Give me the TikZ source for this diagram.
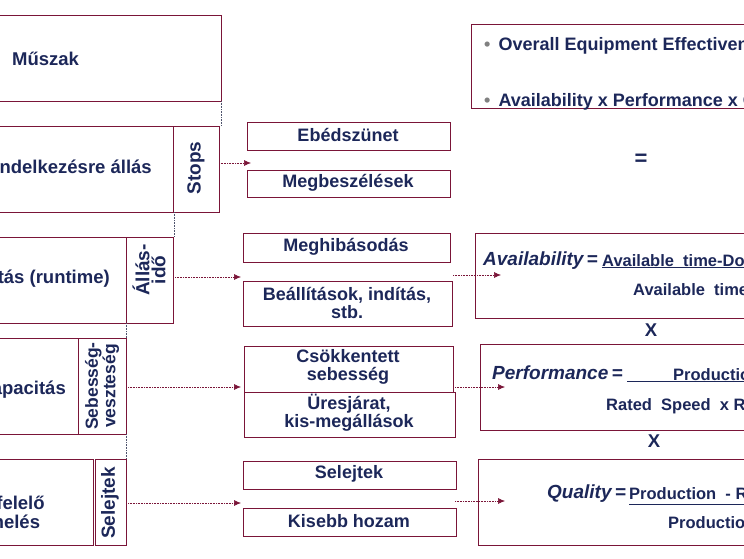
\documentclass[tikz,border=0pt]{standalone}
\usepackage{fontspec}
\setmainfont{Liberation Sans}
\usetikzlibrary{arrows.meta}
\definecolor{navy}{HTML}{1C2759}
\definecolor{maroon}{HTML}{7A1538}
\tikzset{
 bx/.style={draw=maroon,line width=0.8pt},
 txt/.style={text=navy,font=\bfseries\fontsize{18.5}{19}\selectfont,inner sep=0pt},
 mtxt/.style={text=navy,font=\bfseries\fontsize{18}{18}\selectfont,inner sep=0pt,align=center},
 vt/.style={text=navy,font=\bfseries\fontsize{19}{16}\selectfont,inner sep=0pt,rotate=90,align=center},
 arr/.style={draw=maroon,densely dotted,line width=0.6pt,-{Latex[length=7pt,width=6pt]}},
 gl/.style={draw=navy!50!gray,densely dotted,line width=0.6pt},
 ftxt/.style={text=navy,font=\bfseries\fontsize{16.5}{17}\selectfont,inner sep=0pt,anchor=base west},
 itx/.style={text=navy,font=\bfseries\itshape\fontsize{19}{19}\selectfont,inner sep=0pt,anchor=base west},
}
\begin{document}
\begin{tikzpicture}[x=1pt,y=-1pt]
\useasboundingbox (0,0) rectangle (744,558);
\clip (0,0) rectangle (744,558);
% left column
\draw[bx] (-5,15) rectangle (221,101);
\node[txt,anchor=west] (musz) at (12,59) {Műszak};
\draw[bx] (-5,126) rectangle (173,212);
\draw[bx] (173,126) rectangle (219,212);
\node[txt,anchor=east] (rend) at (152,167) {Rendelkezésre állás};
\node[vt] (stops) at (196,168) {Stops};
\draw[bx] (-5,237) rectangle (126,323);
\draw[bx] (126,237) rectangle (173,323);
\node[txt,anchor=east] (fut) at (110,279) {Futás (runtime)};
\node[vt] (allas) at (149,270) {Állás-\\idő};
\draw[bx] (-5,338) rectangle (78,434);
\draw[bx] (78,338) rectangle (126,434);
\node[txt,anchor=east] (kap) at (66,390) {Kapacitás};
\node[vt,font=\bfseries\fontsize{17.5}{14}\selectfont] (seb) at (102,386) {Sebesség-\\veszteség};
\draw[bx] (-5,459) rectangle (93,545);
\draw[bx] (95,459) rectangle (126,545);
\node[txt,align=center,font=\bfseries\fontsize{18.5}{19}\selectfont] (megf) at (2,512) {Megfelelő\\termelés};
\node[vt] (selv) at (110,503) {Selejtek};
\draw[gl] (221,101) -- (221,126);
\draw[gl] (174,212) -- (174,237);
\draw[gl] (126,323) -- (126,338);
\draw[gl] (126,434) -- (126,459);
% middle column
\draw[bx] (247,122) rectangle (450,150); \node[mtxt] (ebed) at (348,135) {Ebédszünet};
\draw[bx] (247,170) rectangle (450,197); \node[mtxt] (megb) at (348,183) {Megbeszélések};
\draw[bx] (243,233) rectangle (450,262); \node[mtxt] (megh) at (346,247) {Meghibásodás};
\draw[bx] (243,281) rectangle (452,326); \node[mtxt] (beal) at (347,303) {Beállítások, indítás,\\stb.};
\draw[bx] (244,346) rectangle (453,392); \node[mtxt] (csok) at (348,367) {Csökkentett\\sebesség};
\draw[bx] (244,392) rectangle (455,437); \node[mtxt] (ures) at (349,413) {Üresjárat,\\kis-megállások};
\draw[bx] (243,461) rectangle (456,489); \node[mtxt] (sel) at (349,474) {Selejtek};
\draw[bx] (243,508) rectangle (456,536); \node[mtxt] (kis) at (349,521) {Kisebb hozam};
\coordinate (a1) at (219,163); \coordinate (b1) at (251,163);
\coordinate (a2) at (175,277); \coordinate (b2) at (241,277);
\coordinate (a3) at (128,387); \coordinate (b3) at (241,387);
\coordinate (a4) at (128,503); \coordinate (b4) at (241,503);
\draw[arr] (a1) -- (b1);
\draw[arr] (a2) -- (b2);
\draw[arr] (a3) -- (b3);
\draw[arr] (a4) -- (b4);
% right column
\draw[bx] (471,24) rectangle (760,108);
\node[ftxt,font=\bfseries\fontsize{18}{18}\selectfont] (oee) at (484,50) {{\color{gray}•}\hspace{8pt}Overall Equipment Effectiveness};
\node[ftxt,font=\bfseries\fontsize{18}{18}\selectfont] (apq) at (484,106) {{\color{gray}•}\hspace{8pt}Availability x Performance x Quality};
\node[txt,font=\bfseries\fontsize{22}{22}\selectfont] (eq) at (641,160) {=};
\draw[bx] (475,233) rectangle (760,318);
\node[itx] (av) at (483,265) {Availability\,=};
\node[ftxt] (avn) at (602,266) {\underline{Available\ \ time-Downtime}};
\node[ftxt] (avd) at (633,295) {Available\ \ time};
\node[txt] (x1) at (651,330) {X};
\draw[bx] (480,344) rectangle (760,430);
\node[itx] (pf) at (492,379) {Performance\,=};
\node[ftxt] (pfn) at (627,380) {\underline{\hspace{46pt}Production}};
\node[ftxt] (pfd) at (606,410) {Rated\ \ Speed\ \ x Runtime};
\node[txt] (x2) at (654,441) {X};
\draw[bx] (478,459) rectangle (760,545);
\node[itx] (q) at (547,498) {Quality\,=};
\node[ftxt] (qn) at (629,499) {\underline{Production\ \ - Rejects}};
\node[ftxt] (qd) at (668,528) {Production};
\coordinate (c2) at (453,275); \coordinate (d2) at (501,275);
\coordinate (c3) at (455,387); \coordinate (d3) at (505,387);
\coordinate (c4) at (455,501); \coordinate (d4) at (505,501);
\draw[arr] (c2) -- (d2);
\draw[arr] (c3) -- (d3);
\draw[arr] (c4) -- (d4);
\end{tikzpicture}
\end{document}
